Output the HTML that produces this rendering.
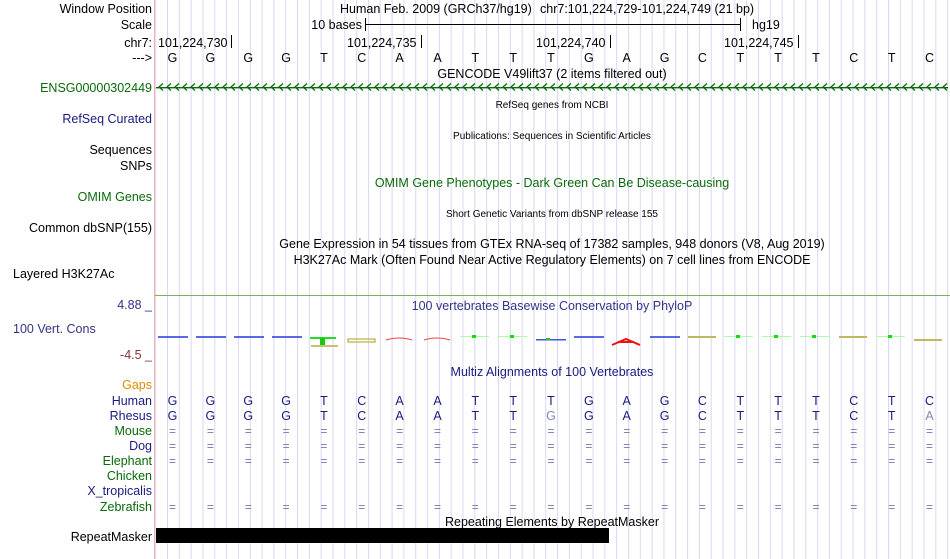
<!DOCTYPE html>
<html><head><meta charset="utf-8"><style>
html,body{margin:0;padding:0;background:#fff;}
svg{display:block;font-family:"Liberation Sans",sans-serif;}
</style></head><body>
<svg width="950" height="559" viewBox="0 0 950 559" xmlns="http://www.w3.org/2000/svg">
<defs>
<pattern id="grid" x="167" y="0" width="11.82" height="10" patternUnits="userSpaceOnUse">
<rect x="0" y="0" width="1" height="10" fill="#d8d8f4"/>
</pattern>
<pattern id="chev" x="157" y="82" width="8" height="10" patternUnits="userSpaceOnUse">
<path d="M6,1.5 L2,5 L6,8.5" fill="none" stroke="#0a6a0a" stroke-width="1.3"/>
</pattern>
</defs>
<rect x="155" y="0" width="795" height="559" fill="url(#grid)"/>
<rect x="154" y="0" width="1" height="559" fill="#f4b0b0"/>

<g font-size="12.5" fill="#000">
<text x="152" y="13" text-anchor="end">Window Position</text>
<text x="152" y="29" text-anchor="end">Scale</text>
<text x="152" y="47" text-anchor="end">chr7:</text>
<text x="152" y="62" text-anchor="end">---&gt;</text>
<text x="152" y="92" text-anchor="end" fill="#0a6a0a">ENSG00000302449</text>
<text x="152" y="123" text-anchor="end" fill="#1a1a80">RefSeq Curated</text>
<text x="152" y="154" text-anchor="end">Sequences</text>
<text x="152" y="170" text-anchor="end">SNPs</text>
<text x="152" y="201" text-anchor="end" fill="#0a6a0a">OMIM Genes</text>
<text x="152" y="232" text-anchor="end">Common dbSNP(155)</text>
<text x="13" y="278">Layered H3K27Ac</text>
<text x="152" y="309" text-anchor="end" fill="#333388">4.88 _</text>
<text x="13" y="333" fill="#333388">100 Vert. Cons</text>
<text x="152" y="359" text-anchor="end" fill="#883333">-4.5 _</text>
<text x="152" y="389" text-anchor="end" fill="#e08a00">Gaps</text>
<text x="152" y="405" text-anchor="end" fill="#1a1a80">Human</text>
<text x="152" y="420" text-anchor="end" fill="#1a1a80">Rhesus</text>
<text x="152" y="435" text-anchor="end" fill="#0a6a0a">Mouse</text>
<text x="152" y="450" text-anchor="end" fill="#1a1a80">Dog</text>
<text x="152" y="465" text-anchor="end" fill="#0a6a0a">Elephant</text>
<text x="152" y="480" text-anchor="end" fill="#0a6a0a">Chicken</text>
<text x="152" y="495" text-anchor="end" fill="#1a1a80">X_tropicalis</text>
<text x="152" y="511" text-anchor="end" fill="#0a6a0a">Zebrafish</text>
<text x="152" y="541" text-anchor="end">RepeatMasker</text>
</g>

<g font-size="12.5" fill="#000">
<text x="540" y="13">chr7:101,224,729-101,224,749 (21 bp)</text>
<text x="340" y="13">Human Feb. 2009 (GRCh37/hg19)</text>
<text x="362" y="29" text-anchor="end">10 bases</text>
<text x="752" y="29">hg19</text>
<text x="158" y="47">101,224,730</text>
<text x="347" y="47">101,224,735</text>
<text x="536" y="47">101,224,740</text>
<text x="724" y="47">101,224,745</text>
</g>
<rect x="365" y="24" width="376" height="1" fill="#000"/>
<rect x="365" y="18" width="1" height="13" fill="#000"/>
<rect x="740" y="18" width="1" height="13" fill="#000"/>
<rect x="231" y="35" width="1" height="13" fill="#000"/>
<rect x="421" y="35" width="1" height="13" fill="#000"/>
<rect x="610" y="35" width="1" height="13" fill="#000"/>
<rect x="798" y="35" width="1" height="13" fill="#000"/>

<g font-size="12.5" fill="#000" text-anchor="middle">
<text x="172.5" y="62">G</text><text x="210.4" y="62">G</text><text x="248.2" y="62">G</text><text x="286.1" y="62">G</text><text x="323.9" y="62">T</text><text x="361.8" y="62">C</text><text x="399.6" y="62">A</text><text x="437.5" y="62">A</text><text x="475.3" y="62">T</text><text x="513.2" y="62">T</text><text x="551" y="62">T</text><text x="588.9" y="62">G</text><text x="626.7" y="62">A</text><text x="664.6" y="62">G</text><text x="702.4" y="62">C</text><text x="740.3" y="62">T</text><text x="778.1" y="62">T</text><text x="816" y="62">T</text><text x="853.8" y="62">C</text><text x="891.7" y="62">T</text><text x="929.5" y="62">C</text>
</g>

<g text-anchor="middle" fill="#000">
<text x="552" y="78" font-size="12.5">GENCODE V49lift37 (2 items filtered out)</text>
<text x="552" y="108" font-size="10">RefSeq genes from NCBI</text>
<text x="552" y="139" font-size="10">Publications: Sequences in Scientific Articles</text>
<text x="552" y="187" font-size="12.5" fill="#0a6a0a">OMIM Gene Phenotypes - Dark Green Can Be Disease-causing</text>
<text x="552" y="217" font-size="10">Short Genetic Variants from dbSNP release 155</text>
<text x="552" y="248" font-size="12.5">Gene Expression in 54 tissues from GTEx RNA-seq of 17382 samples, 948 donors (V8, Aug 2019)</text>
<text x="552" y="264" font-size="12.5">H3K27Ac Mark (Often Found Near Active Regulatory Elements) on 7 cell lines from ENCODE</text>
<text x="552" y="310" font-size="12.5" fill="#333388">100 vertebrates Basewise Conservation by PhyloP</text>
<text x="552" y="376" font-size="12.5" fill="#1a1a80">Multiz Alignments of 100 Vertebrates</text>
<text x="552" y="526" font-size="12.5">Repeating Elements by RepeatMasker</text>
</g>

<rect x="156" y="87" width="792" height="1.4" fill="#0a6a0a"/>
<rect x="156" y="82" width="792" height="10" fill="url(#chev)"/>

<rect x="155" y="295" width="795" height="1" fill="#7ab060"/>

<g>
<rect x="158" y="336" width="30" height="2" fill="#3344dd" opacity=".8"/>
<rect x="196" y="336" width="30" height="2" fill="#3344dd" opacity=".8"/>
<rect x="234" y="336" width="30" height="2" fill="#3344dd" opacity=".8"/>
<rect x="272" y="336" width="30" height="2" fill="#3344dd" opacity=".8"/>
<rect x="310" y="337" width="26" height="2" fill="#22dd22"/>
<rect x="320" y="338" width="5" height="7" fill="#11cc11"/>
<rect x="311" y="345" width="27" height="2" fill="#c8c070"/>
<rect x="348" y="339" width="27" height="3" fill="none" stroke="#b8b040" stroke-width="1.2"/>
<path d="M386,340 Q399,336 412,340" fill="none" stroke="#ee4444" stroke-width="1"/>
<path d="M424,340 Q437,336 450,340" fill="none" stroke="#ee4444" stroke-width="1"/>
<rect x="460" y="336" width="29" height="1" fill="#aaffaa"/>
<rect x="472" y="335" width="4" height="3" fill="#11dd11"/>
<rect x="498" y="336" width="29" height="1" fill="#aaffaa"/>
<rect x="510" y="335" width="4" height="3" fill="#11dd11"/>
<rect x="536" y="339" width="30" height="1.5" fill="#4455dd"/>
<rect x="546" y="338" width="4" height="2" fill="#22cc22"/>
<rect x="574" y="336" width="30" height="2" fill="#3344dd" opacity=".8"/>
<path d="M612,345 L626,339 L640,345 M618,342 L634,342" fill="none" stroke="#ee1111" stroke-width="2"/>
<rect x="650" y="336" width="30" height="2" fill="#3344dd" opacity=".8"/>
<rect x="688" y="336" width="28" height="2" fill="#c0b860"/>
<rect x="724" y="336" width="29" height="1" fill="#aaffaa"/>
<rect x="736" y="335" width="4" height="3" fill="#11dd11"/>
<rect x="762" y="336" width="29" height="1" fill="#aaffaa"/>
<rect x="774" y="335" width="4" height="3" fill="#11dd11"/>
<rect x="800" y="336" width="29" height="1" fill="#aaffaa"/>
<rect x="812" y="335" width="4" height="3" fill="#11dd11"/>
<rect x="839" y="336" width="28" height="2" fill="#c0b860"/>
<rect x="876" y="336" width="29" height="1" fill="#aaffaa"/>
<rect x="888" y="335" width="4" height="3" fill="#11dd11"/>
<rect x="914" y="339" width="28" height="2" fill="#c0b860"/>
</g>

<g font-size="12.5" fill="#1a1a80" text-anchor="middle">
<text x="172.5" y="405">G</text><text x="210.4" y="405">G</text><text x="248.2" y="405">G</text><text x="286.1" y="405">G</text><text x="323.9" y="405">T</text><text x="361.8" y="405">C</text><text x="399.6" y="405">A</text><text x="437.5" y="405">A</text><text x="475.3" y="405">T</text><text x="513.2" y="405">T</text><text x="551" y="405">T</text><text x="588.9" y="405">G</text><text x="626.7" y="405">A</text><text x="664.6" y="405">G</text><text x="702.4" y="405">C</text><text x="740.3" y="405">T</text><text x="778.1" y="405">T</text><text x="816" y="405">T</text><text x="853.8" y="405">C</text><text x="891.7" y="405">T</text><text x="929.5" y="405">C</text>
<text x="172.5" y="420">G</text><text x="210.4" y="420">G</text><text x="248.2" y="420">G</text><text x="286.1" y="420">G</text><text x="323.9" y="420">T</text><text x="361.8" y="420">C</text><text x="399.6" y="420">A</text><text x="437.5" y="420">A</text><text x="475.3" y="420">T</text><text x="513.2" y="420">T</text><text x="551" y="420" fill="#8888aa">G</text><text x="588.9" y="420">G</text><text x="626.7" y="420">A</text><text x="664.6" y="420">G</text><text x="702.4" y="420">C</text><text x="740.3" y="420">T</text><text x="778.1" y="420">T</text><text x="816" y="420">T</text><text x="853.8" y="420">C</text><text x="891.7" y="420">T</text><text x="929.5" y="420" fill="#8888aa">A</text>
</g>
<g font-size="12" fill="#7777aa" text-anchor="middle">
<text x="172.5" y="435">=</text><text x="210.4" y="435">=</text><text x="248.2" y="435">=</text><text x="286.1" y="435">=</text><text x="323.9" y="435">=</text><text x="361.8" y="435">=</text><text x="399.6" y="435">=</text><text x="437.5" y="435">=</text><text x="475.3" y="435">=</text><text x="513.2" y="435">=</text><text x="551" y="435">=</text><text x="588.9" y="435">=</text><text x="626.7" y="435">=</text><text x="664.6" y="435">=</text><text x="702.4" y="435">=</text><text x="740.3" y="435">=</text><text x="778.1" y="435">=</text><text x="816" y="435">=</text><text x="853.8" y="435">=</text><text x="891.7" y="435">=</text><text x="929.5" y="435">=</text>
<text x="172.5" y="450">=</text><text x="210.4" y="450">=</text><text x="248.2" y="450">=</text><text x="286.1" y="450">=</text><text x="323.9" y="450">=</text><text x="361.8" y="450">=</text><text x="399.6" y="450">=</text><text x="437.5" y="450">=</text><text x="475.3" y="450">=</text><text x="513.2" y="450">=</text><text x="551" y="450">=</text><text x="588.9" y="450">=</text><text x="626.7" y="450">=</text><text x="664.6" y="450">=</text><text x="702.4" y="450">=</text><text x="740.3" y="450">=</text><text x="778.1" y="450">=</text><text x="816" y="450">=</text><text x="853.8" y="450">=</text><text x="891.7" y="450">=</text><text x="929.5" y="450">=</text>
<text x="172.5" y="465">=</text><text x="210.4" y="465">=</text><text x="248.2" y="465">=</text><text x="286.1" y="465">=</text><text x="323.9" y="465">=</text><text x="361.8" y="465">=</text><text x="399.6" y="465">=</text><text x="437.5" y="465">=</text><text x="475.3" y="465">=</text><text x="513.2" y="465">=</text><text x="551" y="465">=</text><text x="588.9" y="465">=</text><text x="626.7" y="465">=</text><text x="664.6" y="465">=</text><text x="702.4" y="465">=</text><text x="740.3" y="465">=</text><text x="778.1" y="465">=</text><text x="816" y="465">=</text><text x="853.8" y="465">=</text><text x="891.7" y="465">=</text><text x="929.5" y="465">=</text>
<text x="172.5" y="511">=</text><text x="210.4" y="511">=</text><text x="248.2" y="511">=</text><text x="286.1" y="511">=</text><text x="323.9" y="511">=</text><text x="361.8" y="511">=</text><text x="399.6" y="511">=</text><text x="437.5" y="511">=</text><text x="475.3" y="511">=</text><text x="513.2" y="511">=</text><text x="551" y="511">=</text><text x="588.9" y="511">=</text><text x="626.7" y="511">=</text><text x="664.6" y="511">=</text><text x="702.4" y="511">=</text><text x="740.3" y="511">=</text><text x="778.1" y="511">=</text><text x="816" y="511">=</text><text x="853.8" y="511">=</text><text x="891.7" y="511">=</text><text x="929.5" y="511">=</text>
</g>

<rect x="156" y="528" width="453" height="15" fill="#000"/>
</svg>
</body></html>
